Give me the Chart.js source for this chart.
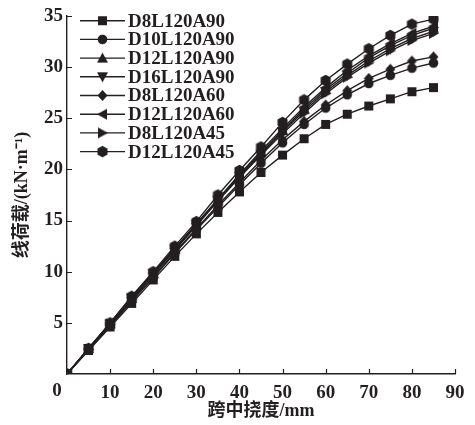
<!DOCTYPE html>
<html>
<head>
<meta charset="utf-8">
<script src="https://cdn.jsdelivr.net/npm/chart.js@4/dist/chart.umd.min.js"></script>
<style>
  html, body { margin: 0; padding: 0; background: #fff; }
  #wrap { width: 475px; height: 425px; }
</style>
</head>
<body>
<div id="wrap"><canvas id="loadChart" width="475" height="425"></canvas></div>
<script>
// deflection (mm) and line load (kN/m)
const deflection = [0, 5, 10, 15, 20, 25, 30, 35, 40, 45, 50, 55, 60, 65, 70, 75, 80, 85];
const d8a90  = [0, 2.3, 4.6, 6.9, 9.2, 11.5, 13.7, 15.8, 17.8, 19.7, 21.4, 23.0, 24.4, 25.4, 26.2, 26.9, 27.6, 28.0];
const d10a90 = [0, 2.4, 4.7, 7.1, 9.4, 11.8, 14.1, 16.3, 18.5, 20.6, 22.6, 24.4, 26.0, 27.3, 28.4, 29.2, 29.9, 30.4];
const d12a90 = [0, 2.5, 4.9, 7.4, 9.8, 12.2, 14.6, 17.0, 19.4, 21.6, 23.8, 25.9, 27.8, 29.4, 30.9, 32.1, 33.1, 33.8];
const d16a90 = [0, 2.5, 4.9, 7.4, 9.8, 12.2, 14.6, 17.0, 19.3, 21.5, 23.7, 25.7, 27.6, 29.2, 30.6, 31.8, 32.8, 33.5];
const d8a60  = [0, 2.4, 4.8, 7.2, 9.5, 11.9, 14.2, 16.5, 18.7, 20.9, 22.9, 24.7, 26.3, 27.7, 28.9, 29.8, 30.6, 31.0];
const d12a60 = [0, 2.5, 5.0, 7.5, 9.9, 12.3, 14.7, 17.1, 19.5, 21.8, 24.0, 26.1, 28.0, 29.7, 31.1, 32.3, 33.3, 34.0];
const d8a45  = [0, 2.4, 4.9, 7.3, 9.7, 12.1, 14.5, 16.9, 19.2, 21.4, 23.5, 25.5, 27.4, 29.0, 30.4, 31.6, 32.6, 33.3];
const d12a45 = [0, 2.5, 5.0, 7.6, 10.0, 12.5, 14.9, 17.5, 19.9, 22.2, 24.6, 26.8, 28.7, 30.3, 31.8, 33.1, 34.2, 34.7];

const seriesNames = ["D8L120A90", "D10L120A90", "D12L120A90", "D16L120A90", "D8L120A60", "D12L120A60", "D8L120A45", "D12L120A45"];
const seriesValues = [d8a90, d10a90, d12a90, d16a90, d8a60, d12a60, d8a45, d12a45];
const markerShapes = ["square", "circle", "up", "down", "diamond", "left", "right", "hex"];

const xTicks = [10, 20, 30, 40, 50, 60, 70, 80, 90];
const yTicks = [5, 10, 15, 20, 25, 30, 35];

const ink = "#231f20";
const serif = "'Liberation Serif', 'Noto Sans CJK SC', serif";

function makeMarker(shape) {
  const c = document.createElement("canvas");
  c.width = 13; c.height = 13;
  const g = c.getContext("2d");
  g.fillStyle = ink;
  g.translate(6.5, 6.5);
  g.beginPath();
  switch (shape) {
    case "square": g.rect(-4.5, -4.5, 9, 9); break;
    case "circle": g.arc(0, 0, 4.8, 0, Math.PI * 2); break;
    case "up": g.moveTo(0, -5.5); g.lineTo(5.5, 4.5); g.lineTo(-5.5, 4.5); break;
    case "down": g.moveTo(0, 5.5); g.lineTo(5.5, -4.5); g.lineTo(-5.5, -4.5); break;
    case "left": g.moveTo(-5.5, 0); g.lineTo(4.5, -5.5); g.lineTo(4.5, 5.5); break;
    case "right": g.moveTo(5.5, 0); g.lineTo(-4.5, -5.5); g.lineTo(-4.5, 5.5); break;
    case "diamond": g.moveTo(0, -5.5); g.lineTo(5, 0); g.lineTo(0, 5.5); g.lineTo(-5, 0); break;
    case "hex":
      for (let k = 0; k < 6; k++) {
        const a = (-90 + 60 * k) * Math.PI / 180;
        const px = 5.8 * Math.cos(a), py = 5.8 * Math.sin(a);
        if (k === 0) g.moveTo(px, py); else g.lineTo(px, py);
      }
      break;
  }
  g.closePath();
  g.fill();
  return c;
}

const markers = markerShapes.map(makeMarker);

const datasets = seriesNames.map((name, i) => ({
  label: name,
  data: deflection.map((x, j) => ({ x: x, y: seriesValues[i][j] })),
  borderColor: ink,
  backgroundColor: ink,
  borderWidth: 1.4,
  pointStyle: markers[i],
  pointRadius: 5,
  tension: 0,
}));

// inner tick marks, shared origin "0" and the legend inside the plot
const decorations = {
  id: "decorations",
  afterDraw(chart) {
    const ctx = chart.ctx;
    const xs = chart.scales.x, ys = chart.scales.y;
    const x0 = xs.getPixelForValue(0), y0 = ys.getPixelForValue(0);
    ctx.save();
    ctx.strokeStyle = ink;
    ctx.lineWidth = 1.2;
    ctx.beginPath();
    xTicks.forEach((v) => {
      const px = Math.round(xs.getPixelForValue(v)) + 0.5;
      ctx.moveTo(px, y0); ctx.lineTo(px, y0 - 5);
    });
    yTicks.forEach((v) => {
      const py = Math.round(ys.getPixelForValue(v)) + 0.5;
      ctx.moveTo(x0, py); ctx.lineTo(x0 + 5, py);
    });
    ctx.stroke();

    ctx.fillStyle = ink;
    ctx.font = "bold 19px " + serif;
    ctx.textAlign = "center";
    ctx.textBaseline = "middle";
    ctx.fillText("0", x0 - 10, y0 + 17);

    // legend
    ctx.textAlign = "left";
    chart.data.datasets.forEach((ds, i) => {
      const ly = 20.7 + i * 18.7;
      ctx.beginPath();
      ctx.lineWidth = 1.4;
      ctx.moveTo(80, ly); ctx.lineTo(125, ly);
      ctx.stroke();
      const m = ds.pointStyle;
      ctx.drawImage(m, 102.5 - m.width / 2, ly - m.height / 2);
      ctx.fillText(ds.label, 128, ly + 1);
    });
    ctx.restore();
  },
};

new Chart(document.getElementById("loadChart"), {
  type: "line",
  data: { datasets: datasets },
  options: {
    responsive: false,
    animation: false,
    layout: { padding: { top: 16, right: 20, left: 0, bottom: 0 } },
    plugins: { legend: { display: false }, tooltip: { enabled: false } },
    scales: {
      x: {
        type: "linear",
        min: 0,
        max: 90,
        grid: { display: false, drawTicks: false, tickLength: 0 },
        border: { display: true, color: ink, width: 1.4 },
        ticks: {
          stepSize: 10,
          color: ink,
          padding: 8,
          font: { family: serif, size: 19, weight: "bold" },
          callback: (v) => (v === 0 ? "" : v),
        },
        title: {
          display: true,
          text: "跨中挠度/mm",
          color: ink,
          padding: { top: 0, bottom: 3 },
          font: { family: serif, size: 18, weight: "bold" },
        },
        afterFit: (scale) => { scale.height = 51; },
      },
      y: {
        min: 0,
        max: 35,
        grid: { display: false, drawTicks: false, tickLength: 0 },
        border: { display: true, color: ink, width: 1.4 },
        ticks: {
          stepSize: 5,
          color: ink,
          padding: 4,
          font: { family: serif, size: 19, weight: "bold" },
          callback: (v) => (v === 0 ? "" : v),
        },
        title: {
          display: true,
          text: "线荷载/(kN·m⁻¹)",
          color: ink,
          padding: { top: 12, bottom: 0 },
          font: { family: serif, size: 18, weight: "bold" },
        },
        afterFit: (scale) => { scale.width = 67; },
      },
    },
  },
  plugins: [decorations],
});
</script>
</body>
</html>
